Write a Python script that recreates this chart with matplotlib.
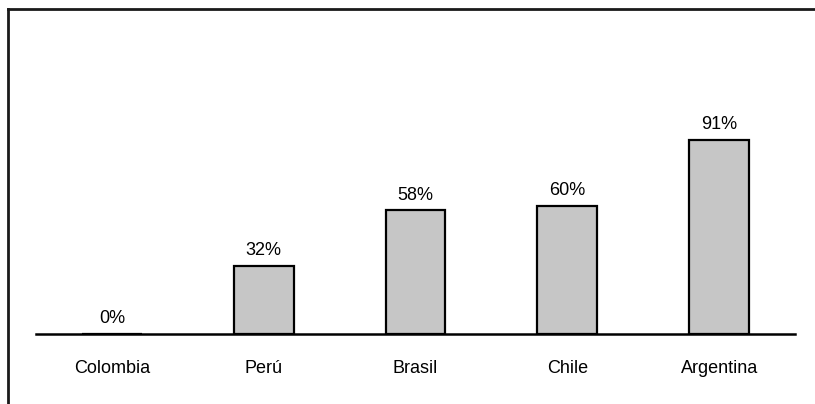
import matplotlib.pyplot as plt
from matplotlib.lines import Line2D
import numpy as np

# Données
paises = ["Colombia", "Perú", "Brasil", "Chile", "Argentina"]
porcentajes = [0, 32, 58, 60, 91]

plt.rcParams['font.family'] = ['Liberation Sans', 'DejaVu Sans']

fig = plt.figure(figsize=(8.15, 4.04), dpi=100)
ax = fig.add_axes([36 / 815, 70 / 404, 759 / 815, 213 / 404])

x = np.arange(len(paises))
ax.bar(x, porcentajes, width=0.395, color='#c6c6c6', edgecolor='black', linewidth=1.6, zorder=2)

for xi, v in zip(x, porcentajes):
    ax.annotate(f"{v}%", (xi, v), textcoords="offset points", xytext=(0, 5),
                ha='center', va='bottom', fontsize=13)

ax.set_xlim(-0.5, 4.5)
ax.set_ylim(0, 100)
ax.set_xticks(x, paises, fontsize=13)
ax.tick_params(axis='x', length=0, pad=19)
ax.set_yticks([])
for s in ['top', 'right', 'left']:
    ax.spines[s].set_visible(False)
ax.spines['bottom'].set_linewidth(1.8)
ax.spines['bottom'].set_zorder(3)

# marco (solo lados superior e izquierdo)
fig.add_artist(Line2D([7.5 / 815, 7.5 / 815], [0, 1 - 8.5 / 404], color='#1a1a1a', linewidth=2))
fig.add_artist(Line2D([7.5 / 815, 1], [1 - 8.5 / 404, 1 - 8.5 / 404], color='#1a1a1a', linewidth=2))

fig.savefig('out.png', dpi=100)
